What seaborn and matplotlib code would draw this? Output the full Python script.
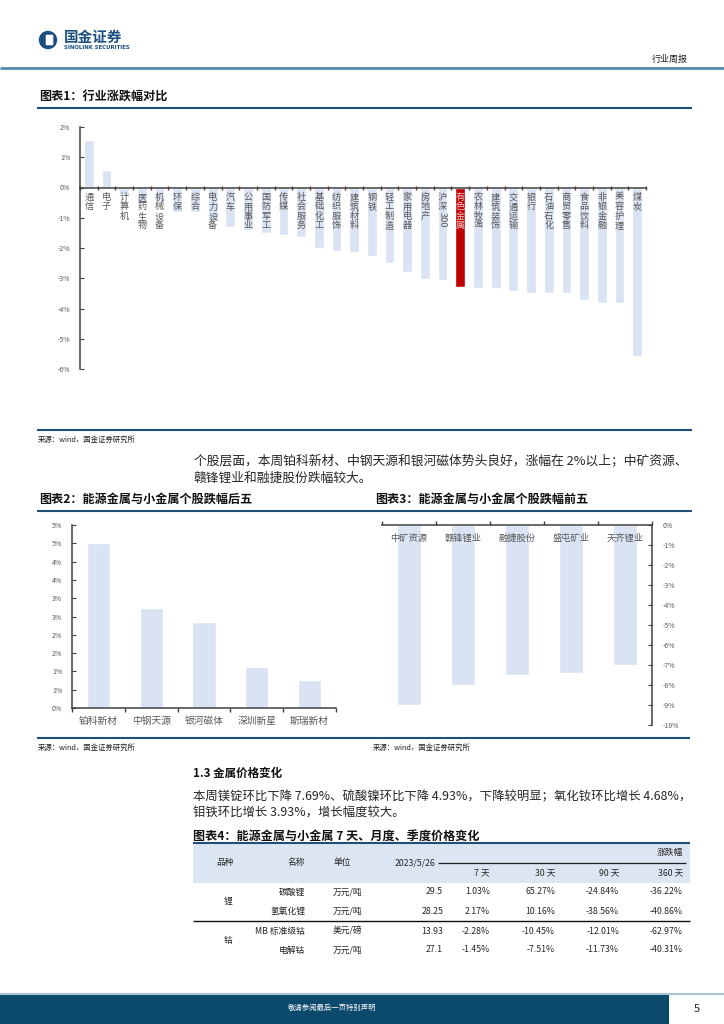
import matplotlib
matplotlib.use("Agg")
import matplotlib.pyplot as plt
import seaborn as sns
import pandas as pd
import numpy as np
from matplotlib.patches import Rectangle, Circle, FancyBboxPatch


# ---------------------------------------------------------------------------
# Data
# ---------------------------------------------------------------------------

industries = ["通信", "电子", "计算机", "医药生物", "机械设备", "环保", "综合",
              "电力设备", "汽车", "公用事业", "国防军工", "传媒", "社会服务",
              "基础化工", "纺织服饰", "建筑材料", "钢铁", "轻工制造", "家用电器",
              "房地产", "沪深300", "有色金属", "农林牧渔", "建筑装饰", "交通运输",
              "银行", "石油石化", "商贸零售", "食品饮料", "非银金融", "美容护理", "煤炭"]
industry_chg = [1.57, 0.57, -0.25, -0.50, -0.52, -0.80, -0.82, -1.11, -1.31, -1.39,
                -1.50, -1.58, -1.63, -2.00, -2.11, -2.13, -2.25, -2.49, -2.79, -3.02,
                -3.07, -3.30, -3.33, -3.33, -3.43, -3.49, -3.49, -3.49, -3.73, -3.82,
                -3.82, -5.56]
highlight = "有色金属"

top_names = ["铂科新材", "中钢天源", "银河磁体", "深圳新星", "斯瑞新材"]
top_chg = [4.52, 2.72, 2.36, 1.12, 0.76]
top_ticks = [0, 0.5, 1, 1.5, 2, 2.5, 3, 3.5, 4, 4.5, 5]
top_tick_labels = ["0%", "1%", "1%", "2%", "2%", "3%", "3%", "4%", "4%", "5%", "5%"]

bottom_names = ["中矿资源", "赣锋锂业", "融捷股份", "盛屯矿业", "天齐锂业"]
bottom_chg = [-9.00, -8.00, -7.50, -7.39, -7.02]

metal_groups = ["锂", "钴"]
price_names = ["碳酸锂", "氢氧化锂", "MB 标准级钴", "电解钴"]
price_units = ["万元/吨", "万元/吨", "美元/磅", "万元/吨"]
price_latest = ["29.5", "28.25", "13.93", "27.1"]
chg_7d = ["1.03%", "2.17%", "-2.28%", "-1.45%"]
chg_30d = ["65.27%", "10.16%", "-10.45%", "-7.51%"]
chg_90d = ["-24.84%", "-38.56%", "-12.01%", "-11.73%"]
chg_360d = ["-36.22%", "-40.86%", "-62.97%", "-40.31%"]
period_labels = ["7 天", "30 天", "90 天", "360 天"]

source_text = "来源：wind，国金证券研究所"
para1 = ["个股层面，本周铂科新材、中钢天源和银河磁体势头良好，涨幅在 2%以上；中矿资源、",
         "赣锋锂业和融捷股份跌幅较大。"]
para2 = ["本周镁锭环比下降 7.69%、硫酸镍环比下降 4.93%，下降较明显；氧化钕环比增长 4.68%，",
         "钼铁环比增长 3.93%，增长幅度较大。"]

# ---------------------------------------------------------------------------
# Style
# ---------------------------------------------------------------------------

sns.set_style("ticks")
plt.rcParams["font.family"] = ["Noto Sans CJK SC", "DejaVu Sans"]
plt.rcParams["axes.unicode_minus"] = False

W, H = 724, 1024
LIGHT = "#dae3f3"
RED = "#c00000"
GREY_TXT = "#595959"
AXIS = "#404040"
NAVY = "#1f4e79"
FOOT = "#0b4a6d"

fig = plt.figure(figsize=(W / 100, H / 100), dpi=100)

page = fig.add_axes([0, 0, 1, 1])
page.set_xlim(0, W)
page.set_ylim(H, 0)
page.axis("off")


def px_axes(left, top, right, bottom):
    ax = fig.add_axes([left / W, 1 - bottom / H, (right - left) / W, (bottom - top) / H])
    ax.patch.set_alpha(0)
    return ax


def hline(y, x0, x1, color, lw):
    page.plot([x0, x1], [y, y], color=color, lw=lw, solid_capstyle="butt")


def fit_text(x, y, s, width, size, **kw):
    t = page.text(x, y, s, fontsize=size, va="center", ha="left", **kw)
    w = t.get_window_extent(fig.canvas.get_renderer()).width
    t.set_fontsize(size * width / w)
    return t


def boundary_ticks(ax, n, direction):
    ax.set_xticks(np.arange(-0.5, n), minor=True)
    ax.tick_params(axis="x", which="minor", length=3, width=1, color=AXIS,
                   direction=direction)
    ax.tick_params(axis="x", which="major", length=0)


# ---------------------------------------------------------------------------
# Page header
# ---------------------------------------------------------------------------

page.add_patch(Circle((48, 40), 8.5, color="#1b4f7e"))
page.add_patch(FancyBboxPatch((47, 36), 5, 8, boxstyle="round,pad=0.6",
                              color="white"))
page.text(64, 37, "国金证券", fontsize=10.5, fontweight="bold", color="#1b4f7e",
          va="center")
page.text(64, 47.5, "SINOLINK SECURITIES", fontsize=3.9, fontweight="bold",
          color="#1b4f7e", va="center", family="DejaVu Sans")
page.text(688, 59, "行业周报", fontsize=6.5, color="#222222", ha="right", va="center")
hline(67.5, 0, W, "#5b87aa", 2)

# ---------------------------------------------------------------------------
# Chart 1 — industry performance
# ---------------------------------------------------------------------------

page.text(39, 97, "图表1：行业涨跌幅对比", fontsize=8.7, fontweight="bold",
          color="#111111", va="center")
hline(107.5, 37, 692, NAVY, 1.5)

ax1 = px_axes(80, 127, 646, 369)
df1 = pd.DataFrame({"industry": industries, "chg": industry_chg})
palette = {k: (RED if k == highlight else LIGHT) for k in industries}
sns.barplot(data=df1, x="industry", y="chg", hue="industry", palette=palette,
            width=0.55, saturation=1, legend=False, ax=ax1)
ax1.set_axisbelow(False)
ax1.set_ylim(-6, 2)
ax1.set_xlim(-0.5, len(industries) - 0.5)
ax1.set_yticks(range(-6, 3))
ax1.set_yticklabels([f"{v}%" for v in range(-6, 3)])
ax1.spines["bottom"].set_position(("data", 0))
ax1.spines["top"].set_visible(False)
ax1.spines["right"].set_visible(False)
for s in ["left", "bottom"]:
    ax1.spines[s].set_color(AXIS)
    ax1.spines[s].set_linewidth(1.1)
labels1 = ["\n".join(n[:2]) if n == "沪深300" else "\n".join(n) for n in industries]
ax1.set_xticks(range(len(industries)))
ax1.set_xticklabels(labels1, fontsize=6.6, color=GREY_TXT, linespacing=1.05,
                    va="top")
ax1.tick_params(axis="x", pad=4)
boundary_ticks(ax1, len(industries), "inout")
ax1.tick_params(axis="y", labelsize=5, labelcolor=GREY_TXT, direction="in",
                length=3, color=AXIS, pad=7)
ax1.set_xlabel("")
ax1.set_ylabel("")
for i, n in enumerate(industries):
    if n == "沪深300":
        ax1.annotate("300", xy=(i, 0), xytext=(0, -25), textcoords="offset pixels",
                     rotation=-90, ha="center", va="top", fontsize=6.6, color=GREY_TXT)
    if n == highlight:
        ax1.get_xticklabels()[i].set_color("#f4c7c7")

hline(430, 37, 692, NAVY, 1.5)
page.text(38, 440, source_text, fontsize=5.3, color="#222222", va="center")

fit_text(194, 462, para1[0], 496, 9)
page.text(194, 478, para1[1], fontsize=page.texts[-1].get_fontsize(), va="center")

# ---------------------------------------------------------------------------
# Chart 2 / 3 — stock performance
# ---------------------------------------------------------------------------

page.text(39, 500, "图表2：能源金属与小金属个股跌幅后五", fontsize=8.7,
          fontweight="bold", color="#111111", va="center")
page.text(375, 500, "图表3：能源金属与小金属个股跌幅前五", fontsize=8.7,
          fontweight="bold", color="#111111", va="center")
hline(510.5, 37, 692, NAVY, 1.5)

ax2 = px_axes(72, 525, 336, 708)
sns.barplot(x=top_names, y=top_chg, color=LIGHT, saturation=1, width=0.44, ax=ax2)
ax2.set_ylim(0, 5)
ax2.set_xlim(-0.5, len(top_names) - 0.5)
ax2.set_yticks(top_ticks)
ax2.set_yticklabels(top_tick_labels)
ax2.spines["top"].set_visible(False)
ax2.spines["right"].set_visible(False)
for s in ["left", "bottom"]:
    ax2.spines[s].set_color(AXIS)
    ax2.spines[s].set_linewidth(1.1)
ax2.tick_params(axis="x", labelsize=7, labelcolor=GREY_TXT, pad=6)
boundary_ticks(ax2, len(top_names), "out")
ax2.tick_params(axis="y", labelsize=5, labelcolor=GREY_TXT, direction="in",
                length=3, color=AXIS, pad=7)

ax3 = px_axes(382, 525, 652, 725)
sns.barplot(x=bottom_names, y=bottom_chg, color=LIGHT, saturation=1, width=0.44,
            ax=ax3)
ax3.set_ylim(-10, 0)
ax3.set_xlim(-0.5, len(bottom_names) - 0.5)
ax3.set_yticks(range(-10, 1))
ax3.set_yticklabels([f"{v}%" for v in range(-10, 1)])
ax3.yaxis.tick_right()
ax3.spines["bottom"].set_position(("data", 0))
ax3.spines["top"].set_visible(False)
ax3.spines["left"].set_visible(False)
for s in ["right", "bottom"]:
    ax3.spines[s].set_visible(True)
    ax3.spines[s].set_color(AXIS)
    ax3.spines[s].set_linewidth(1.1)
ax3.tick_params(axis="x", labelsize=6.7, labelcolor=GREY_TXT, pad=6, rotation=0)
boundary_ticks(ax3, len(bottom_names), "in")
ax3.tick_params(axis="y", labelsize=5, labelcolor=GREY_TXT, direction="in",
                length=3, color=AXIS, pad=8)

for ax in (ax2, ax3):
    ax.set_axisbelow(False)
    ax.set_xlabel("")
    ax.set_ylabel("")

hline(738, 37, 690, NAVY, 1.5)
page.text(38, 748, source_text, fontsize=5.3, color="#222222", va="center")
page.text(373, 748, source_text, fontsize=5.3, color="#222222", va="center")

# ---------------------------------------------------------------------------
# Section 1.3 and price table
# ---------------------------------------------------------------------------

page.text(193, 773, "1.3 金属价格变化", fontsize=8.3, fontweight="bold",
          color="#111111", va="center")
fit_text(193, 797, para2[0], 497, 9)
page.text(193, 813, para2[1], fontsize=page.texts[-1].get_fontsize(), va="center")
page.text(193, 836, "图表4：能源金属与小金属 7 天、月度、季度价格变化", fontsize=8.7,
          fontweight="bold", color="#111111", va="center")

page.add_patch(Rectangle((193, 843), 497, 40, color="#dce6f2", lw=0))
hline(843, 193, 690, NAVY, 1.5)
fs = 6.3
page.text(225, 863, "品种", fontsize=fs, ha="center", va="center")
page.text(305, 863, "名称", fontsize=fs, ha="right", va="center")
page.text(333, 863, "单位", fontsize=fs, ha="left", va="center")
page.text(435, 863, "2023/5/26", fontsize=fs, ha="right", va="center")
hline(863, 438, 686, "#222222", 0.9)
page.text(683, 853, "涨跌幅", fontsize=fs, ha="right", va="center")
col_right = [490, 555, 619, 683]
for xr, lab in zip(col_right, period_labels):
    page.text(xr, 873, lab, fontsize=fs, ha="right", va="center")

row_y = [892, 911, 931, 950]
for i, y in enumerate(row_y):
    page.text(305, y, price_names[i], fontsize=fs, ha="right", va="center")
    page.text(333, y, price_units[i], fontsize=fs, ha="left", va="center")
    page.text(443, y, price_latest[i], fontsize=fs, ha="right", va="center")
    for xr, col in zip(col_right, [chg_7d, chg_30d, chg_90d, chg_360d]):
        page.text(xr, y, col[i], fontsize=fs, ha="right", va="center")
page.text(228, (row_y[0] + row_y[1]) / 2, metal_groups[0], fontsize=fs,
          ha="center", va="center")
page.text(228, (row_y[2] + row_y[3]) / 2, metal_groups[1], fontsize=fs,
          ha="center", va="center")
hline(921, 193, 690, "#111111", 1.0)

# ---------------------------------------------------------------------------
# Footer
# ---------------------------------------------------------------------------

hline(993.5, 0, W, "#a9c1d3", 1.5)
page.add_patch(Rectangle((0, 994.5), 669, 29.5, color=FOOT, lw=0))
page.text(332, 1008, "敬请参阅最后一页特别声明", fontsize=5.3, color="white",
          ha="center", va="center")
page.text(697, 1009, "5", fontsize=8, color="#222222", ha="center", va="center")

fig.savefig("out.png", dpi=100)
plt.close()
